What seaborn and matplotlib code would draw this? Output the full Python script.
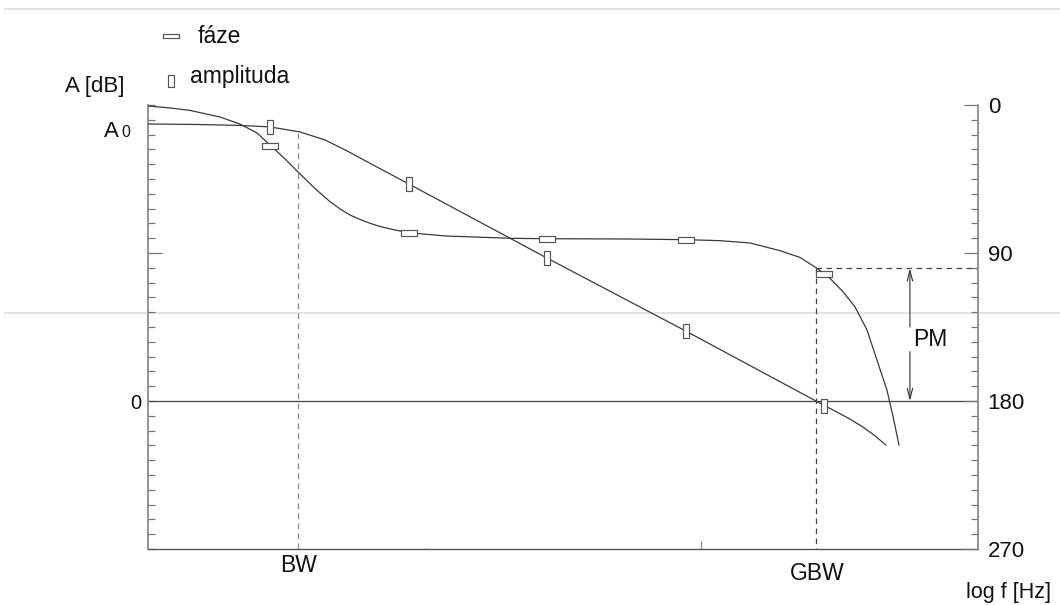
import matplotlib
matplotlib.use("Agg")
import matplotlib.pyplot as plt
from matplotlib.lines import Line2D
import numpy as np
import seaborn as sns

# ---- open-loop response of an operational amplifier ----
# frequency in decades (log10 f), amplitude in dB, phase lag in degrees
amp_logf = [0.0, 0.47, 0.831, 1.102, 1.373, 1.599, 1.798, 2.051, 2.358,
            3.605, 4.861, 6.036, 6.208, 6.343, 6.452, 6.56, 6.669]
amp_db = [93.6, 93.4, 93.1, 92.6, 90.9, 88.2, 84.5, 79.4, 73.3,
          48.3, 23.6, 0.0, -3.4, -6.1, -8.6, -11.5, -14.9]

phase_logf = [0.0, 0.199, 0.38, 0.651, 0.831, 0.985, 1.111, 1.238, 1.355,
              1.509, 1.645, 1.735, 1.825, 1.916, 2.006, 2.096, 2.232, 2.358,
              2.702, 3.298, 3.605, 4.355, 4.861, 5.169, 5.44, 5.711, 5.891,
              6.045, 6.162, 6.28, 6.388, 6.497, 6.587, 6.677, 6.732, 6.786]
phase_deg = [0.6, 1.8, 3.3, 7.3, 11.6, 17.0, 24.9, 32.8, 40.7,
             50.8, 58.8, 63.2, 66.9, 69.6, 71.9, 73.9, 76.0, 77.7,
             79.7, 81.1, 81.3, 81.5, 81.9, 82.5, 83.9, 88.6, 92.7,
             99.3, 105.4, 113.5, 122.7, 136.8, 155.1, 173.3, 189.3, 206.8]

# sample points highlighted on both curves
mark_logf = [1.10, 2.36, 3.605, 4.86, 6.11]
mark_amp = [92.6, 73.3, 48.3, 23.6, -1.7]
mark_phase = [24.9, 77.8, 81.5, 82.1, 102.8]

A0 = 93.6            # open-loop DC gain [dB]
BW = 1.355           # -3 dB bandwidth (log10 f)
GBW = 6.04           # unity-gain frequency (log10 f)
PHASE_GBW = 99.3     # phase lag at GBW [deg]
PM_X = 6.885         # where the phase-margin arrow is drawn
PM_GAP = (135.0, 150.0)

X_LIM = (0, 7.5)
AMP_LIM = (-50, 100)
PHASE_LIM = (270, 0)

W, H = 1060, 605

sns.set_theme(style="white")
plt.rcParams["font.family"] = ["Liberation Sans", "DejaVu Sans"]
plt.rcParams["text.color"] = "#111111"

fig = plt.figure(figsize=(W / 100, H / 100), dpi=100)
fig.patch.set_facecolor("white")


def fpx(x, y):
    return x / W, 1 - y / H


ax = fig.add_axes([148 / W, 56 / H, 830 / W, 444 / H])
ax.patch.set_visible(False)
ax2 = ax.twinx()

ax.set_xlim(*X_LIM)
ax.set_ylim(*AMP_LIM)
ax2.set_ylim(*PHASE_LIM)

# ---- spines ----
for s in ("top", "right"):
    ax.spines[s].set_visible(False)
for s in ("top", "left", "bottom"):
    ax2.spines[s].set_visible(False)
ax.spines["left"].set_color("#8c8c8c")
ax.spines["left"].set_linewidth(1.3)
ax.spines["bottom"].set_color("#555555")
ax.spines["bottom"].set_linewidth(1.0)
ax2.spines["right"].set_color("#8c8c8c")
ax2.spines["right"].set_linewidth(1.3)

# ---- ticks ----
ax.set_yticks([50])
ax.set_yticks(np.arange(-50, 101, 5), minor=True)
ax.set_yticklabels([])
ax.tick_params(axis="y", which="major", direction="in", length=10, width=0.9,
               color="#777777", left=True, labelleft=False)
ax.tick_params(axis="y", which="minor", direction="in", length=5, width=0.9,
               color="#777777", left=True)

ax.set_xticks([5.0])
ax.set_xticks([2.5], minor=True)
ax.set_xticklabels([])
ax.tick_params(axis="x", which="major", direction="in", length=5.8, width=0.9,
               color="#888888", bottom=True, labelbottom=False)
ax.tick_params(axis="x", which="minor", direction="in", length=1.0, width=0.9,
               color="#888888", bottom=True)

ax2.set_yticks([0, 90, 180, 270])
ax2.set_yticks(np.arange(0, 271, 9), minor=True)
ax2.set_yticklabels(["0", "90", "180", "270"])
ax2.tick_params(axis="y", which="major", direction="in", length=10, width=0.9,
                color="#777777", right=True, labelright=True, labelsize=16,
                pad=7, labelcolor="#111111")
ax2.tick_params(axis="y", which="minor", direction="in", length=4.8, width=0.9,
                color="#777777", right=True)

ax.grid(False)
ax2.grid(False)
ax.set_xlabel("")
ax.set_ylabel("")
ax2.set_ylabel("")

# ---- 0 dB reference ----
ax.axhline(0, color="#444444", lw=0.9, zorder=2)

# ---- curves ----
curve_col = "#3a3a3a"
sns.lineplot(x=amp_logf, y=amp_db, ax=ax, color=curve_col, lw=0.9,
             sort=False, estimator=None, zorder=3)
sns.lineplot(x=phase_logf, y=phase_deg, ax=ax2, color=curve_col, lw=0.9,
             sort=False, estimator=None, zorder=3)

PHASE_MARK = [(-1, -0.32), (1, -0.32), (1, 0.32), (-1, 0.32), (-1, -0.32)]
AMP_MARK = [(-0.44, -1), (0.44, -1), (0.44, 1), (-0.44, 1), (-0.44, -1)]
mk_phase = dict(marker=PHASE_MARK, markersize=11.5, mfc="white",
                mec="#555555", mew=0.85, linestyle="none")
mk_amp = dict(marker=AMP_MARK, markersize=9.6, mfc="white",
              mec="#555555", mew=0.85, linestyle="none")
ax.plot(mark_logf, mark_amp, zorder=5, **mk_amp)
ax2.plot(mark_logf, mark_phase, zorder=5, **mk_phase)

# ---- BW, GBW and phase margin construction ----
dash = (0, (4.5, 3.5))
ax.plot([BW, BW], [A0 - 3, AMP_LIM[0]], color="#888888", lw=0.9,
        linestyle=dash, zorder=2)
ax2.plot([GBW, GBW], [PHASE_GBW, PHASE_LIM[0]], color="#444444", lw=0.9,
         linestyle=dash, zorder=2)
ax2.plot([GBW, X_LIM[1]], [PHASE_GBW, PHASE_GBW], color="#444444", lw=0.9,
         linestyle=dash, zorder=2)

arrow = dict(arrowstyle="->,head_length=0.5,head_width=0.13",
             color="#333333", lw=0.8, shrinkA=0, shrinkB=0,
             mutation_scale=15)
ax2.annotate("", xy=(PM_X, PHASE_GBW), xytext=(PM_X, PM_GAP[0]),
             arrowprops=arrow, zorder=4)
ax2.annotate("", xy=(PM_X, 180), xytext=(PM_X, PM_GAP[1]),
             arrowprops=arrow, zorder=4)
ax2.text(PM_X + 0.025, (PM_GAP[0] + PM_GAP[1]) / 2, "PM", fontsize=16.5,
         ha="left", va="center")

# ---- axis annotations ----
fig.text(*fpx(65, 92), "A [dB]", fontsize=16, ha="left", va="baseline")
fig.text(*fpx(119, 136.7), "A", fontsize=16, ha="right", va="baseline")
fig.text(*fpx(121, 136.7), "0", fontsize=11.5, ha="left", va="baseline")
fig.text(*fpx(141.5, 409), "0", fontsize=14.5, ha="right", va="baseline")
fig.text(*fpx(298.5, 572), "BW", fontsize=16.5, ha="center", va="baseline")
fig.text(*fpx(817.5, 580), "GBW", fontsize=16.5, ha="center", va="baseline")
fig.text(*fpx(1051, 598), "log f [Hz]", fontsize=15.5, ha="right",
         va="baseline")

# ---- legend ----
fig.add_artist(Line2D([170.8 / W], [1 - 35.8 / H], transform=fig.transFigure,
                      **{**mk_phase, "markersize": 11}))
fig.add_artist(Line2D([171 / W], [1 - 80.5 / H], transform=fig.transFigure,
                      **{**mk_amp, "markersize": 8.8}))
fig.text(*fpx(198, 43.3), "fáze", fontsize=16.5, ha="left", va="baseline")
fig.text(*fpx(190, 82.7), "amplituda", fontsize=16.5, ha="left",
         va="baseline")

# ---- page rules ----
for yp in (9.3, 313):
    fig.add_artist(Line2D([0.004, 1.0], [1 - yp / H, 1 - yp / H],
                          transform=fig.transFigure, color="#dcdcdc",
                          lw=1.1, zorder=-1))

fig.savefig("out.png", dpi=100)
